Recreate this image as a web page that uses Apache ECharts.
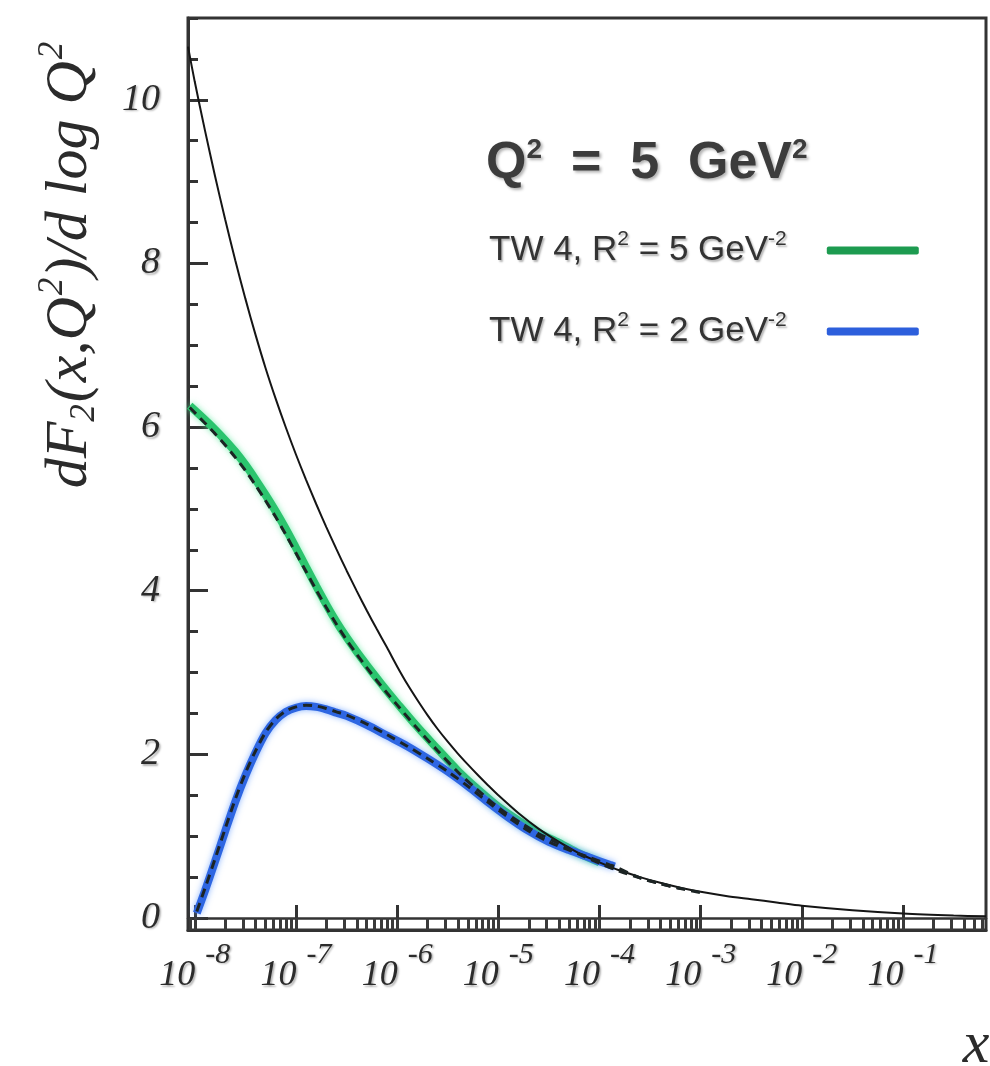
<!DOCTYPE html>
<html>
<head>
<meta charset="utf-8">
<script src="https://cdn.jsdelivr.net/npm/echarts@6/dist/echarts.min.js"></script>
<style>
html,body{margin:0;padding:0;background:#fff;}
#chart{width:990px;height:1066px;}
</style>
</head>
<body>
<div id="chart"></div>
<script>
// ---------------- data (x given as log10(x)) ----------------
const xRangeExp = [-8.067, -0.18];
const xDecadeExps = [-8, -7, -6, -5, -4, -3, -2, -1];
const xMinorMultipliers = [1, 2, 3, 4, 5, 6, 7, 8, 9];
const yMajorTicks = [0, 2, 4, 6, 8, 10];
const yMinorTicks = [0, 0.5, 1, 1.5, 2, 2.5, 3, 3.5, 4, 4.5, 5, 5.5, 6, 6.5, 7, 7.5, 8, 8.5, 9, 9.5, 10, 10.5, 11];

// thin black solid curve
const blackLogX = [-8.067, -8.0, -7.9, -7.8, -7.7, -7.6, -7.5, -7.4, -7.3, -7.2, -7.1, -7.0, -6.9, -6.8, -6.7, -6.6, -6.5, -6.4, -6.3, -6.2, -6.1, -6.0, -5.9, -5.8, -5.7, -5.6, -5.5, -5.4, -5.3, -5.2, -5.1, -5.0, -4.8, -4.6, -4.4, -4.2, -4.0, -3.8, -3.6, -3.4, -3.2, -3.0, -2.75, -2.5, -2.25, -2.0, -1.5, -1.0, -0.5, -0.18];
const blackY    = [10.65, 10.22, 9.63, 9.07, 8.54, 8.04, 7.57, 7.13, 6.72, 6.345, 5.995, 5.665, 5.355, 5.06, 4.778, 4.508, 4.248, 3.998, 3.758, 3.528, 3.305, 3.075, 2.86, 2.665, 2.48, 2.31, 2.155, 2.01, 1.875, 1.745, 1.62, 1.5, 1.28, 1.09, 0.93, 0.79, 0.68, 0.58, 0.5, 0.43, 0.37, 0.32, 0.27, 0.23, 0.19, 0.15, 0.095, 0.055, 0.03, 0.02];

// green: TW 4, R^2 = 5 GeV^-2
const greenLogX = [-8.05, -7.9, -7.8, -7.7, -7.6, -7.5, -7.4, -7.3, -7.2, -7.1, -7.0, -6.9, -6.8, -6.7, -6.6, -6.5, -6.4, -6.3, -6.2, -6.1, -6.0, -5.8, -5.6, -5.4, -5.2, -5.0, -4.8, -4.6, -4.4, -4.2, -4.0];
const greenY    = [6.26, 6.09, 5.97, 5.84, 5.7, 5.54, 5.36, 5.17, 4.97, 4.755, 4.525, 4.29, 4.055, 3.83, 3.62, 3.43, 3.255, 3.09, 2.93, 2.775, 2.625, 2.335, 2.065, 1.8, 1.57, 1.36, 1.19, 1.04, 0.92, 0.79, 0.68];

// blue: TW 4, R^2 = 2 GeV^-2
const blueLogX = [-7.98, -7.9, -7.8, -7.7, -7.6, -7.5, -7.4, -7.3, -7.2, -7.1, -7.0, -6.9, -6.8, -6.7, -6.6, -6.5, -6.3, -6.1, -5.9, -5.7, -5.5, -5.3, -5.1, -4.9, -4.7, -4.5, -4.3, -4.1, -3.9, -3.85];
const blueY    = [0.06, 0.33, 0.69, 1.06, 1.42, 1.74, 2.02, 2.26, 2.42, 2.52, 2.57, 2.59, 2.58, 2.55, 2.51, 2.47, 2.36, 2.23, 2.1, 1.95, 1.79, 1.61, 1.415, 1.23, 1.065, 0.93, 0.83, 0.74, 0.65, 0.63];

// dashed black curves drawn over the coloured bands
const dashGreenLogX = [-8.05, -7.9, -7.8, -7.7, -7.6, -7.5, -7.4, -7.3, -7.2, -7.1, -7.0, -6.9, -6.8, -6.7, -6.6, -6.5, -6.4, -6.3, -6.2, -6.1, -6.0, -5.8, -5.6, -5.4, -5.2, -5.0, -4.8, -4.6, -4.4, -4.2, -4.0, -3.8, -3.6, -3.4, -3.2, -3.0];
const dashGreenY    = [6.24, 6.05, 5.92, 5.78, 5.63, 5.47, 5.29, 5.1, 4.9, 4.685, 4.46, 4.235, 4.01, 3.795, 3.59, 3.4, 3.225, 3.06, 2.9, 2.75, 2.605, 2.315, 2.045, 1.785, 1.56, 1.35, 1.18, 1.03, 0.91, 0.78, 0.67, 0.57, 0.49, 0.42, 0.36, 0.31];
const dashBlueLogX = [-7.98, -7.9, -7.8, -7.7, -7.6, -7.5, -7.4, -7.3, -7.2, -7.1, -7.0, -6.9, -6.8, -6.7, -6.6, -6.5, -6.3, -6.1, -5.9, -5.7, -5.5, -5.3, -5.1, -4.9, -4.7, -4.5, -4.3, -4.1, -3.9, -3.85, -3.6, -3.4, -3.2];
const dashBlueY    = [0.08, 0.36, 0.72, 1.09, 1.45, 1.77, 2.04, 2.27, 2.43, 2.53, 2.58, 2.6, 2.59, 2.56, 2.52, 2.48, 2.37, 2.24, 2.1, 1.95, 1.79, 1.61, 1.415, 1.23, 1.065, 0.93, 0.83, 0.74, 0.65, 0.63, 0.49, 0.42, 0.36];

const nameGreen = 'TW 4, R2 = 5 GeV-2';
const nameBlue  = 'TW 4, R2 = 2 GeV-2';

// ---------------- build ----------------
const SERIF = '"Liberation Serif","DejaVu Serif",serif';
const SANS = '"Liberation Sans",Arial,sans-serif';
const INK = '#2b2b2b';
const xMin = Math.pow(10, xRangeExp[0]);
const xMax = Math.pow(10, xRangeExp[1]);
const decadeVals = xDecadeExps.map(e => Math.pow(10, e));
const rulerVals = [];
for (let d = -9; d <= 0; d++) {
  xMinorMultipliers.forEach(k => {
    const v = k * Math.pow(10, d);
    if (v >= xMin && v <= xMax) rulerVals.push(v);
  });
}
const toData = (xs, ys) => xs.map((e, i) => [Math.pow(10, e), ys[i]]);
const txtShadow = {textShadowColor: 'rgba(0,0,0,0.3)', textShadowBlur: 2, textShadowOffsetX: 1.5, textShadowOffsetY: 1.5};
const titleShadow = {textShadowColor: 'rgba(0,0,0,0.3)', textShadowBlur: 3, textShadowOffsetX: 2, textShadowOffsetY: 2};

const legendLabels = {};
legendLabels[nameGreen] = '{t|TW 4, R}{s|2}{t| = 5 GeV}{s|-2}{g|}';
legendLabels[nameBlue]  = '{t|TW 4, R}{s|2}{t| = 2 GeV}{s|-2}{g|}';

const chart = echarts.init(document.getElementById('chart'), null, {renderer: 'canvas'});
const option = {
  backgroundColor: '#ffffff',
  animation: false,
  title: {
    left: 486, top: 138, padding: 0,
    text: '{t|Q}{s|2}{t|  =  5  GeV}{s|2}',
    textStyle: {
      rich: {
        t: Object.assign({fontFamily: SANS, fontSize: 52, lineHeight: 52, color: '#3c3c3c'}, titleShadow),
        s: Object.assign({fontFamily: SANS, fontSize: 28, lineHeight: 28, padding: [0, 0, 28, 0], color: '#3c3c3c'}, titleShadow)
      }
    }
  },
  legend: {
    orient: 'vertical', left: 489, top: 229, padding: 0,
    align: 'right', itemWidth: 92, itemHeight: 8, itemGap: 38, icon: 'roundRect',
    data: [
      {name: nameGreen, itemStyle: {color: '#1d9b50'}},
      {name: nameBlue, itemStyle: {color: '#2d5fdc'}}
    ],
    formatter: n => legendLabels[n],
    textStyle: {
      rich: {
        t: Object.assign({fontFamily: SANS, fontSize: 35, lineHeight: 38, color: '#333'}, txtShadow),
        s: Object.assign({fontFamily: SANS, fontSize: 21, lineHeight: 21, padding: [0, 0, 22, 0], color: '#333'}, txtShadow),
        g: {width: 35}
      }
    }
  },
  grid: [
    {left: 188, right: 4, top: 18, bottom: 136, show: true, borderColor: '#333', borderWidth: 3, backgroundColor: 'rgba(0,0,0,0)'},
    {left: 188, right: 4, top: 18, bottom: 148}
  ],
  xAxis: [
    {
      gridIndex: 0, type: 'log', min: xMin, max: xMax,
      axisLine: {show: true, lineStyle: {color: '#333', width: 3}},
      axisTick: {show: true, inside: true, length: 12, customValues: rulerVals, lineStyle: {color: '#3a3a3a', width: 3}},
      axisLabel: {
        show: true, margin: 28, customValues: decadeVals,
        formatter: v => '{b|10}{e|' + Math.round(Math.log10(v)) + '}',
        rich: {
          b: Object.assign({fontFamily: SERIF, fontStyle: 'italic', fontSize: 36, lineHeight: 36, color: INK}, txtShadow),
          e: Object.assign({fontFamily: SERIF, fontStyle: 'italic', fontSize: 30, lineHeight: 30, padding: [0, 0, 42, 10], color: INK}, txtShadow)
        }
      },
      splitLine: {show: false}
    },
    {
      gridIndex: 1, type: 'log', min: xMin, max: xMax,
      axisLine: {show: true, lineStyle: {color: '#333', width: 2.5}},
      axisTick: {show: true, inside: true, length: 13, customValues: decadeVals, lineStyle: {color: '#333', width: 3}},
      axisLabel: {show: false},
      splitLine: {show: false}
    }
  ],
  yAxis: [
    {gridIndex: 0, type: 'value', min: 0, max: 1, show: false},
    {
      gridIndex: 1, type: 'value', min: 0, max: 11,
      axisLine: {show: true, lineStyle: {color: '#333', width: 3}},
      axisTick: {show: true, inside: true, length: 10, customValues: yMinorTicks, lineStyle: {color: '#333', width: 3}},
      axisLabel: {show: false},
      splitLine: {show: false}
    },
    {
      gridIndex: 1, type: 'value', min: 0, max: 11, position: 'left', offset: 0,
      axisLine: {show: false},
      axisTick: {show: true, inside: true, length: 20, customValues: yMajorTicks, lineStyle: {color: '#333', width: 3}},
      axisLabel: Object.assign({
        show: true, margin: 28, customValues: yMajorTicks,
        fontFamily: SERIF, fontStyle: 'italic', fontSize: 38, color: INK
      }, txtShadow),
      splitLine: {show: false}
    }
  ],
  graphic: [
    {
      type: 'text', x: 70, y: 265, rotation: Math.PI / 2, silent: true,
      style: {
        text: '{n|dF}{sub|2}{n|(x,Q}{sup|2}{n|)/d log Q}{sup|2}',
        align: 'center', verticalAlign: 'middle',
        rich: {
          n: {fontFamily: SERIF, fontStyle: 'italic', fontSize: 60, lineHeight: 60, fill: INK},
          sub: {fontFamily: SERIF, fontStyle: 'italic', fontSize: 35, lineHeight: 35, padding: [30, 2, 0, 0], fill: INK},
          sup: {fontFamily: SERIF, fontStyle: 'italic', fontSize: 35, lineHeight: 35, padding: [0, 0, 34, 2], fill: INK}
        }
      }
    },
    {
      type: 'text', x: 976, y: 1046, silent: true,
      style: {text: 'x', font: 'italic 60px "Liberation Serif"', fill: INK, align: 'center', verticalAlign: 'middle'}
    }
  ],
  series: [
    {
      name: 'total', type: 'line', xAxisIndex: 1, yAxisIndex: 1, smooth: 0.3, symbol: 'none',
      lineStyle: {color: '#151515', width: 2}, data: toData(blackLogX, blackY), z: 3
    },
    {
      name: nameGreen, type: 'line', xAxisIndex: 1, yAxisIndex: 1, smooth: 0.3, symbol: 'none',
      itemStyle: {color: '#2bc46e'},
      lineStyle: {color: '#2bc46e', width: 8, shadowColor: 'rgba(80,230,150,0.7)', shadowBlur: 6},
      data: toData(greenLogX, greenY), z: 2
    },
    {
      name: nameBlue, type: 'line', xAxisIndex: 1, yAxisIndex: 1, smooth: 0.3, symbol: 'none',
      itemStyle: {color: '#2e66e2'},
      lineStyle: {color: '#2e66e2', width: 8, shadowColor: 'rgba(90,150,255,0.7)', shadowBlur: 6},
      data: toData(blueLogX, blueY), z: 2
    },
    {
      name: 'fit5', type: 'line', xAxisIndex: 1, yAxisIndex: 1, smooth: 0.3, symbol: 'none',
      lineStyle: {color: '#1c2424', width: 3, type: [9, 6]}, data: toData(dashGreenLogX, dashGreenY), z: 4
    },
    {
      name: 'fit2', type: 'line', xAxisIndex: 1, yAxisIndex: 1, smooth: 0.3, symbol: 'none',
      lineStyle: {color: '#1c2424', width: 3, type: [9, 6]}, data: toData(dashBlueLogX, dashBlueY), z: 4
    }
  ]
};
chart.setOption(option);
</script>
</body>
</html>
